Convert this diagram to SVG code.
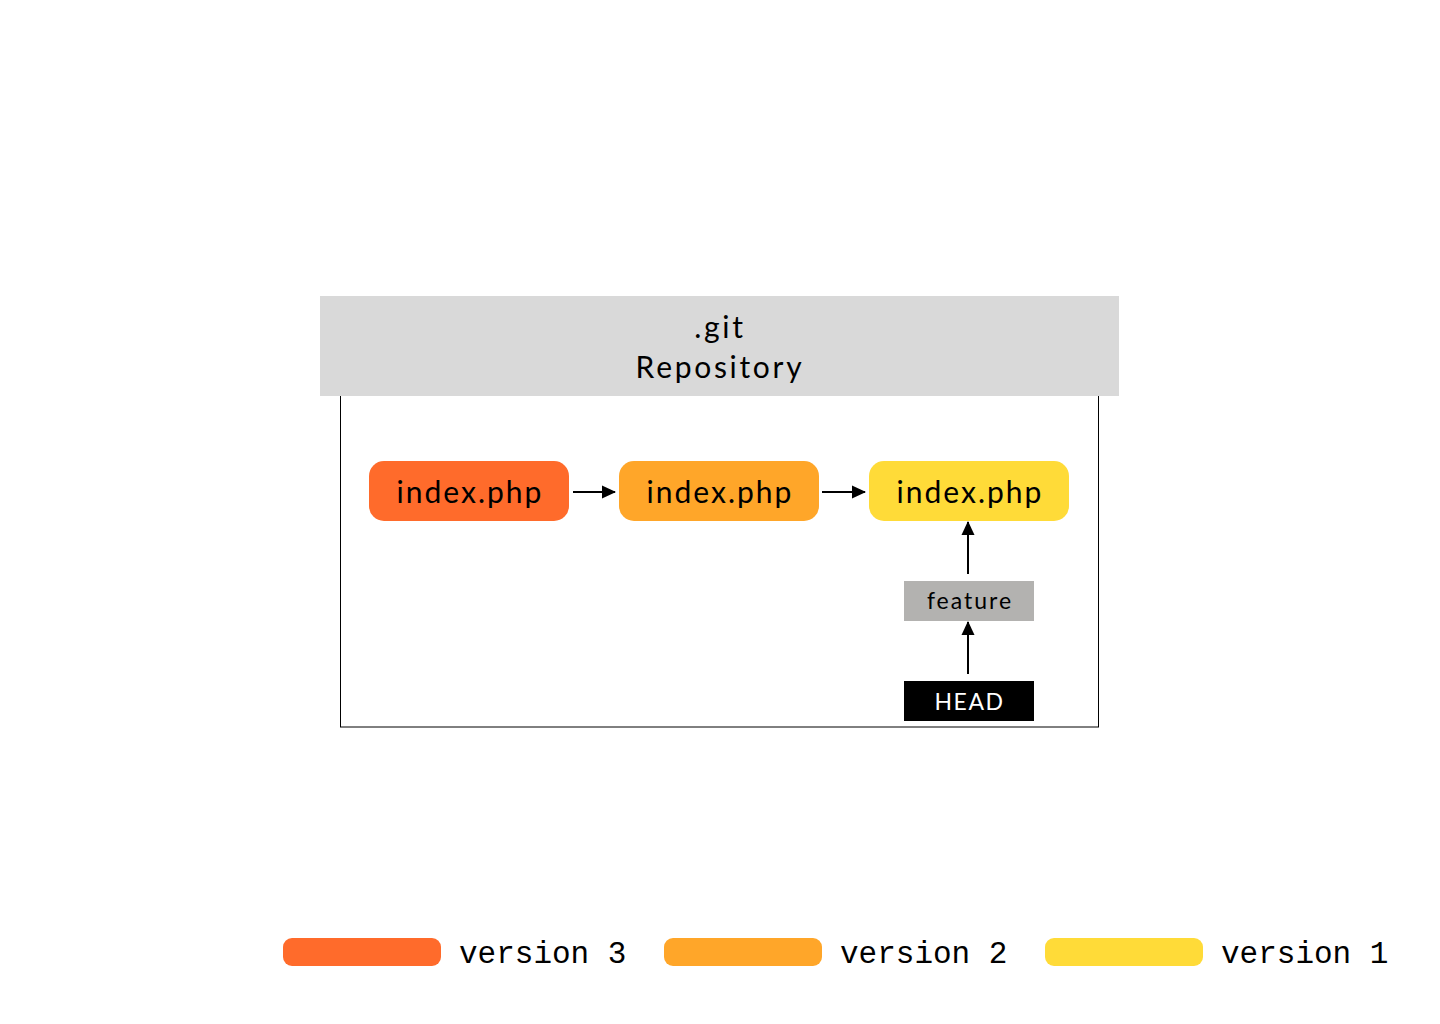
<svg xmlns="http://www.w3.org/2000/svg" width="1440" height="1024" viewBox="0 0 1440 1024">
<style>
.lbl{font-family:Lato,"Noto Sans",sans-serif;fill:#000;text-anchor:middle}
.leg{font-family:"Liberation Mono","DejaVu Sans Mono",monospace;font-size:31px;fill:#000}
.conn line{stroke:#000;stroke-width:2;marker-end:url(#ah)}
</style>
<defs>
<marker id="ah" viewBox="0 0 14 14" refX="13" refY="7" markerWidth="14" markerHeight="14" orient="auto" markerUnits="userSpaceOnUse">
<path d="M0,0.5 L14,7 L0,13.5 z" fill="#000"/>
</marker>
</defs>
<rect width="1440" height="1024" fill="#fff"/>
<g id="repo">
<rect x="340.5" y="395" width="758" height="332" fill="none" stroke="#000" stroke-width="1"/>
<rect x="320" y="296" width="799" height="100" fill="#d9d9d9"/>
<text class="lbl" x="720" y="338" font-size="30" letter-spacing="2.7">.git</text>
<text class="lbl" x="720" y="378" font-size="30" letter-spacing="2.7">Repository</text>
</g>
<g id="v3">
<rect x="369" y="461" width="200" height="60" rx="15" fill="#ff6b2b"/>
<text class="lbl" x="470" y="503" font-size="30" letter-spacing="2">index.php</text>
</g>
<g id="v2">
<rect x="619" y="461" width="200" height="60" rx="15" fill="#ffa629"/>
<text class="lbl" x="720" y="503" font-size="30" letter-spacing="2">index.php</text>
</g>
<g id="v1">
<rect x="869" y="461" width="200" height="60" rx="15" fill="#ffdb38"/>
<text class="lbl" x="970" y="503" font-size="30" letter-spacing="2">index.php</text>
</g>
<g id="feature">
<rect x="904" y="581" width="130" height="40" fill="#b3b2b0"/>
<text class="lbl" x="970" y="609" font-size="23" letter-spacing="2">feature</text>
</g>
<g id="head">
<rect x="904" y="681" width="130" height="40" fill="#000"/>
<text class="lbl" x="969.5" y="710" font-size="23" letter-spacing="1.5" style="fill:#fff">HEAD</text>
</g>
<g class="conn" id="connectors">
<line x1="573" y1="492" x2="615" y2="492"/>
<line x1="822" y1="492" x2="865" y2="492"/>
<line x1="968" y1="574" x2="968" y2="522"/>
<line x1="968" y1="674" x2="968" y2="622"/>
</g>
<g id="legend">
<rect x="283" y="938" width="158" height="28" rx="9" fill="#ff6b2b"/>
<text class="leg" x="459" y="963">version 3</text>
<rect x="664" y="938" width="158" height="28" rx="9" fill="#ffa629"/>
<text class="leg" x="840" y="963">version 2</text>
<rect x="1045" y="938" width="158" height="28" rx="9" fill="#ffdb38"/>
<text class="leg" x="1221" y="963">version 1</text>
</g>
</svg>
